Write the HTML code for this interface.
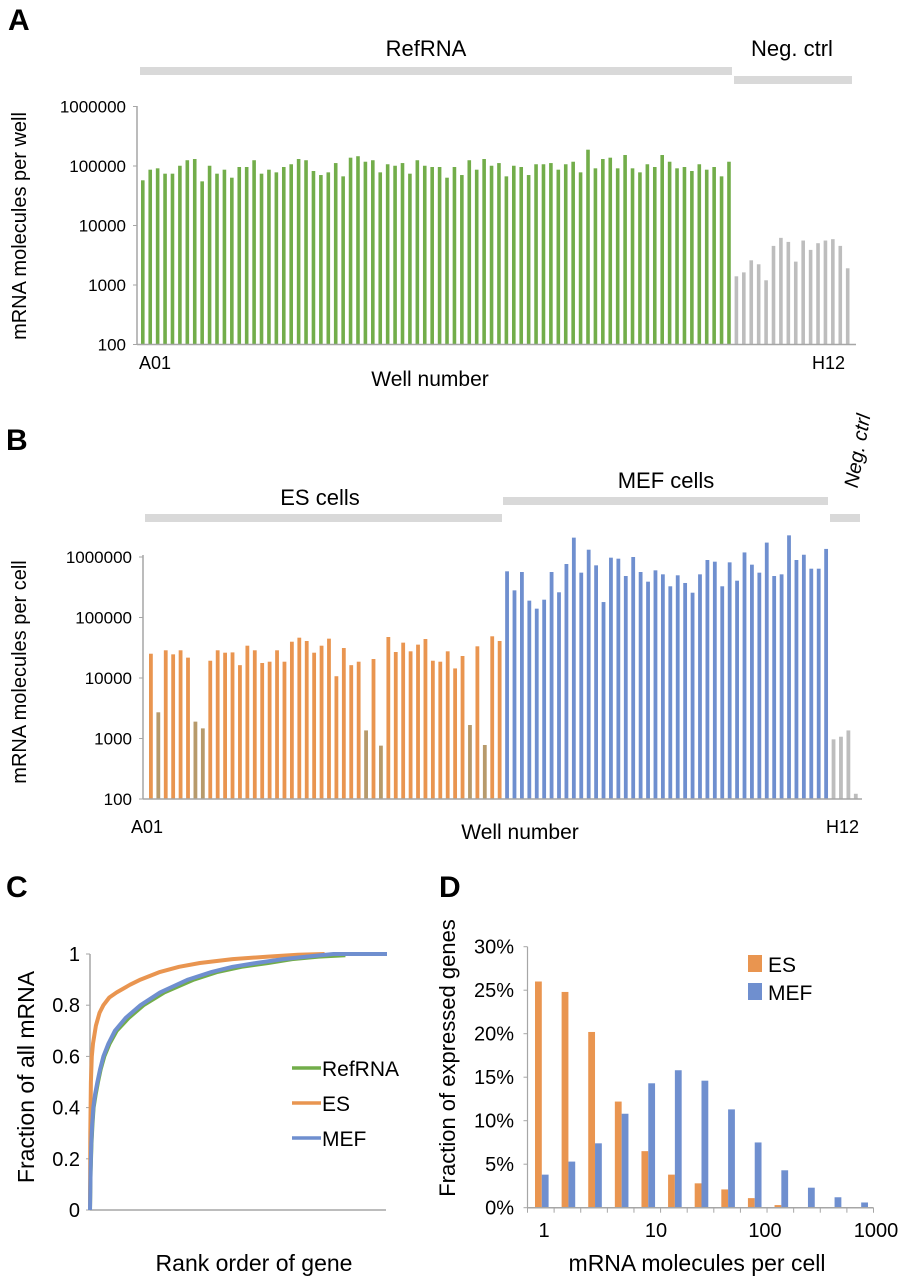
<!DOCTYPE html>
<html><head><meta charset="utf-8"><style>
html,body{margin:0;padding:0;background:#fff}
svg{display:block;font-family:"Liberation Sans",sans-serif}
</style></head><body>
<svg id="fig" width="901" height="1280" viewBox="0 0 901 1280">
<g id="pA"></g>
<g id="pB"></g>
<g id="pC"></g>
<g id="pD"></g>
</svg>
<script>
// Panel A data
const aRefRNA=[57500,86700,91400,74300,74300,101000,125000,131000,55200,101000,74300,86700,63600,96200,96200,125000,74300,86700,78200,96200,107000,131000,125000,82400,70500,78200,112000,67000,138000,146000,118000,125000,78200,107000,101000,112000,74300,125000,101000,96200,96200,63600,96200,70500,125000,86700,131000,
101000,112000,67000,101000,96200,70500,107000,107000,112000,86700,107000,118000,78200,188000,91400,131000,138000,91400,153000,91400,78200,107000,96200,153000,118000,91400,96200,82400,107000,86700,96200,67000,118000];
const aNeg=[1400,1630,2600,2230,1200,4540,6200,5300,2470,5590,3890,5040,5590,5890,4540,1910];
const aTicks=[100,1000,10000,100000,1000000];
// Panel B data
const bES=[25200,2710,28700,24600,28700,21700,1900,1470,19300,28700,26200,26500,16300,34200,28700,17700,18600,28700,18600,39800,46400,40900,26200,34200,44700,10700,31300,16300,18600,1360,20600,762,47600,26900,38400,27600,35600,44100,19300,18600,27600,14400,23100,1670,33400,781,48900,40900];
const bESlow=[1,6,7,29,31,43,45];
const bMEF=[580000,281000,565000,190000,140000,197000,565000,261000,766000,2090000,551000,1320000,728000,180000,975000,938000,485000,1000000,565000,391000,602000,517000,328000,498000,372000,257000,517000,892000,837000,328000,816000,406000,1190000,747000,551000,1730000,485000,517000,2280000,892000,1090000,641000,641000,1360000];
const bNeg=[968,1070,1360,122];
const bTicks=[100,1000,10000,100000,1000000];
// Panel C data (rank fraction, cumulative fraction)
const cES=[[0,0],[0.001,0.3],[0.002,0.4],[0.003,0.5],[0.006,0.6],[0.01,0.65],[0.02,0.72],[0.032,0.77],[0.045,0.8],[0.065,0.83],[0.09,0.85],[0.135,0.88],[0.17,0.9],[0.236,0.93],[0.3,0.95],[0.37,0.965],[0.48,0.98],[0.6,0.99],[0.7,0.997],[0.79,1]];
const cMEF=[[0,0],[0.002,0.15],[0.004,0.25],[0.007,0.33],[0.011,0.4],[0.017,0.45],[0.025,0.5],[0.034,0.55],[0.045,0.6],[0.062,0.65],[0.084,0.7],[0.12,0.75],[0.17,0.8],[0.236,0.85],[0.33,0.9],[0.41,0.93],[0.48,0.95],[0.56,0.965],[0.65,0.98],[0.73,0.99],[0.82,1],[1,1]];
const cRef=[[0,0],[0.002,0.15],[0.005,0.26],[0.008,0.33],[0.012,0.4],[0.019,0.45],[0.027,0.5],[0.036,0.55],[0.048,0.6],[0.066,0.65],[0.09,0.7],[0.13,0.75],[0.18,0.8],[0.25,0.85],[0.35,0.9],[0.43,0.93],[0.51,0.95],[0.6,0.965],[0.68,0.98],[0.77,0.99],[0.86,0.995]];
const cTicks=[0,0.2,0.4,0.6,0.8,1];
// Panel D data
const dCats=["1","2","3","5","8","13","22","36","60","100","170","280","460"];
const dES=[26,24.8,20.2,12.2,6.5,3.8,2.8,2.1,1.1,0.3,0.05,0.05,0.05];
const dMEF=[3.8,5.3,7.4,10.8,14.3,15.8,14.6,11.3,7.5,4.3,2.3,1.2,0.6];
const dTicks=[0,5,10,15,20,25,30];
const dXLabels=["1","10","100","1000"];

const NS="http://www.w3.org/2000/svg";
function mk(parent,tag,attrs,text){const e=document.createElementNS(NS,tag);for(const k in attrs)e.setAttribute(k,attrs[k]);if(text!==undefined)e.textContent=text;parent.appendChild(e);return e;}
const GREEN="#72ad4a",ORANGE="#e99550",BLUE="#6f8fcf",GRAY="#bdbdbd",TAN="#b79a6b",AX="#a6a6a6",BAND="#d9d9d9";

// ---------- Panel A ----------
(function(){
const g=document.getElementById('pA');
const y0=344.5,dec=59.5,x0=141,step=7.42,bw=3.6;
const ya=v=>y0-(Math.log10(v)-2)*dec;
const xa=i=>x0+i*step;
let t=mk(g,'text',{x:8,y:30,'font-size':30,'font-weight':'bold'},'A');

let r=mk(g,'rect',{x:140,y:67,width:592,height:8,fill:BAND});

r=mk(g,'rect',{x:734,y:76,width:118,height:8,fill:BAND});

t=mk(g,'text',{x:426,y:56,'font-size':22,'text-anchor':'middle'},'RefRNA');

t=mk(g,'text',{x:792,y:56,'font-size':22,'text-anchor':'middle'},'Neg. ctrl');

aRefRNA.forEach((v,i)=>{const b=mk(g,'rect',{x:xa(i),y:ya(v),width:bw,height:y0-ya(v),fill:GREEN});
});
aNeg.forEach((v,i)=>{const b=mk(g,'rect',{x:xa(i+aRefRNA.length),y:ya(v),width:bw,height:y0-ya(v),fill:GRAY});
});
let l=mk(g,'line',{x1:137,y1:106,x2:137,y2:y0,stroke:AX,'stroke-width':1.5});

l=mk(g,'line',{x1:137,y1:y0,x2:856,y2:y0,stroke:AX,'stroke-width':1.5});

aTicks.forEach(v=>{const tk=mk(g,'line',{x1:133,y1:ya(v),x2:137,y2:ya(v),stroke:AX});

const tl=mk(g,'text',{x:126,y:ya(v)+6,'font-size':17,'text-anchor':'end'},String(v));
});
t=mk(g,'text',{x:0,y:0,'font-size':20,'text-anchor':'middle',transform:'translate(26,226) rotate(-90)'},'mRNA molecules per well');

t=mk(g,'text',{x:139,y:369,'font-size':18},'A01');

t=mk(g,'text',{x:812,y:369,'font-size':18},'H12');

t=mk(g,'text',{x:430,y:386,'font-size':21,'text-anchor':'middle'},'Well number');

})();

// ---------- Panel B ----------
(function(){
const g=document.getElementById('pB');
const y0=799,dec=60.5,x0=149,step=7.42,bw=3.8;
const yb=v=>y0-(Math.log10(v)-2)*dec;
const xb=i=>x0+i*step;
let t=mk(g,'text',{x:6,y:450,'font-size':30,'font-weight':'bold'},'B');

let r=mk(g,'rect',{x:145,y:514,width:357,height:8,fill:BAND});

r=mk(g,'rect',{x:503,y:497,width:325,height:8,fill:BAND});

r=mk(g,'rect',{x:830,y:514,width:30,height:8,fill:BAND});

t=mk(g,'text',{x:320,y:505,'font-size':22,'text-anchor':'middle'},'ES cells');

t=mk(g,'text',{x:666,y:488,'font-size':22,'text-anchor':'middle'},'MEF cells');

t=mk(g,'text',{x:0,y:0,'font-size':20,'font-style':'italic','text-anchor':'middle',transform:'translate(864,452) rotate(-80)'},'Neg. ctrl');

bES.forEach((v,i)=>{const b=mk(g,'rect',{x:xb(i),y:yb(v),width:bw,height:y0-yb(v),fill:bESlow.includes(i)?TAN:ORANGE});
});
bMEF.forEach((v,i)=>{const b=mk(g,'rect',{x:xb(i+bES.length),y:yb(v),width:bw,height:y0-yb(v),fill:BLUE});
});
bNeg.forEach((v,i)=>{const b=mk(g,'rect',{x:xb(i+bES.length+bMEF.length),y:yb(v),width:bw,height:y0-yb(v),fill:GRAY});
});
let l=mk(g,'line',{x1:143,y1:555,x2:143,y2:y0,stroke:AX,'stroke-width':1.5});

l=mk(g,'line',{x1:143,y1:y0,x2:862,y2:y0,stroke:AX,'stroke-width':1.5});

bTicks.forEach(v=>{const tk=mk(g,'line',{x1:139,y1:yb(v),x2:143,y2:yb(v),stroke:AX});

const tl=mk(g,'text',{x:132,y:yb(v)+6,'font-size':17,'text-anchor':'end'},String(v));
});
t=mk(g,'text',{x:0,y:0,'font-size':20,'text-anchor':'middle',transform:'translate(26,672) rotate(-90)'},'mRNA molecules per cell');

t=mk(g,'text',{x:131,y:833,'font-size':18},'A01');

t=mk(g,'text',{x:826,y:833,'font-size':18},'H12');

t=mk(g,'text',{x:520,y:839,'font-size':21,'text-anchor':'middle'},'Well number');

})();

// ---------- Panel C ----------
(function(){
const g=document.getElementById('pC');
const X0=90,W=297,Y0=1210,H=256;
const xc=f=>X0+f*W, yc=v=>Y0-v*H;
let t=mk(g,'text',{x:6,y:897,'font-size':30,'font-weight':'bold'},'C');

let l=mk(g,'line',{x1:X0,y1:yc(1),x2:X0,y2:Y0,stroke:AX,'stroke-width':1.5});

l=mk(g,'line',{x1:X0,y1:Y0,x2:386,y2:Y0,stroke:AX,'stroke-width':1.5});

cTicks.forEach(v=>{const tk=mk(g,'line',{x1:X0-4,y1:yc(v),x2:X0,y2:yc(v),stroke:AX});

const tl=mk(g,'text',{x:80,y:yc(v)+7,'font-size':20,'text-anchor':'end'},String(v));
});
function line(pts,col,name){const d=pts.map((p,i)=>(i?'L':'M')+xc(p[0]).toFixed(1)+','+yc(p[1]).toFixed(1)).join(' ');
const p=mk(g,'path',{d:d,fill:'none',stroke:col,'stroke-width':4,'stroke-linejoin':'round'});
}
line(cRef,GREEN,'line-refrna');line(cES,ORANGE,'line-es');line(cMEF,BLUE,'line-mef');
[['RefRNA',GREEN,1068],['ES',ORANGE,1103],['MEF',BLUE,1138]].forEach(e=>{
const ll=mk(g,'line',{x1:292,y1:e[2],x2:321,y2:e[2],stroke:e[1],'stroke-width':3.5});

const lt=mk(g,'text',{x:322,y:e[2]+8,'font-size':21},e[0]);
});
t=mk(g,'text',{x:0,y:0,'font-size':23,'text-anchor':'middle',transform:'translate(34,1077) rotate(-90)'},'Fraction of all mRNA');

t=mk(g,'text',{x:254,y:1271,'font-size':23,'text-anchor':'middle'},'Rank order of gene');

})();

// ---------- Panel D ----------
(function(){
const g=document.getElementById('pD');
const X0=527.5,X1=873.5,Y0=1207.7,pp=8.7,n=dCats.length,cw=(X1-X0)/n,bw=6.8;
const yd=v=>Y0-v*pp, xd=i=>X0+i*cw;
let t=mk(g,'text',{x:439,y:897,'font-size':30,'font-weight':'bold'},'D');

dES.forEach((v,i)=>{const b=mk(g,'rect',{x:xd(i)+7.5,y:yd(v),width:bw,height:v*pp,fill:ORANGE});
});
dMEF.forEach((v,i)=>{const b=mk(g,'rect',{x:xd(i)+14.3,y:yd(v),width:bw,height:v*pp,fill:BLUE});
});
let l=mk(g,'line',{x1:X0,y1:yd(30),x2:X0,y2:Y0,stroke:AX,'stroke-width':1.2});

l=mk(g,'line',{x1:X0,y1:Y0,x2:X1,y2:Y0,stroke:AX,'stroke-width':1.5});

for(let i=0;i<=n;i++){const tk=mk(g,'line',{x1:xd(i),y1:Y0,x2:xd(i),y2:Y0+5,stroke:AX});
}
dTicks.forEach(v=>{const tk=mk(g,'line',{x1:X0-4,y1:yd(v),x2:X0,y2:yd(v),stroke:AX});

const tl=mk(g,'text',{x:514,y:yd(v)+7,'font-size':20,'text-anchor':'end'},v+'%');
});
const lx=[544,656,765,876];
dXLabels.forEach((s,i)=>{const tl=mk(g,'text',{x:lx[i],y:1237,'font-size':20,'text-anchor':'middle'},s);
});
[['ES',ORANGE,955],['MEF',BLUE,983]].forEach(e=>{
const sw=mk(g,'rect',{x:748,y:e[2],width:14,height:17,fill:e[1]});

const lt=mk(g,'text',{x:768,y:e[2]+17,'font-size':21},e[0]);
});
t=mk(g,'text',{x:0,y:0,'font-size':22,'text-anchor':'middle',transform:'translate(455,1058) rotate(-90)'},'Fraction of expressed genes');

t=mk(g,'text',{x:697,y:1271,'font-size':23,'text-anchor':'middle'},'mRNA molecules per cell');

})();
</script>
</body></html>
